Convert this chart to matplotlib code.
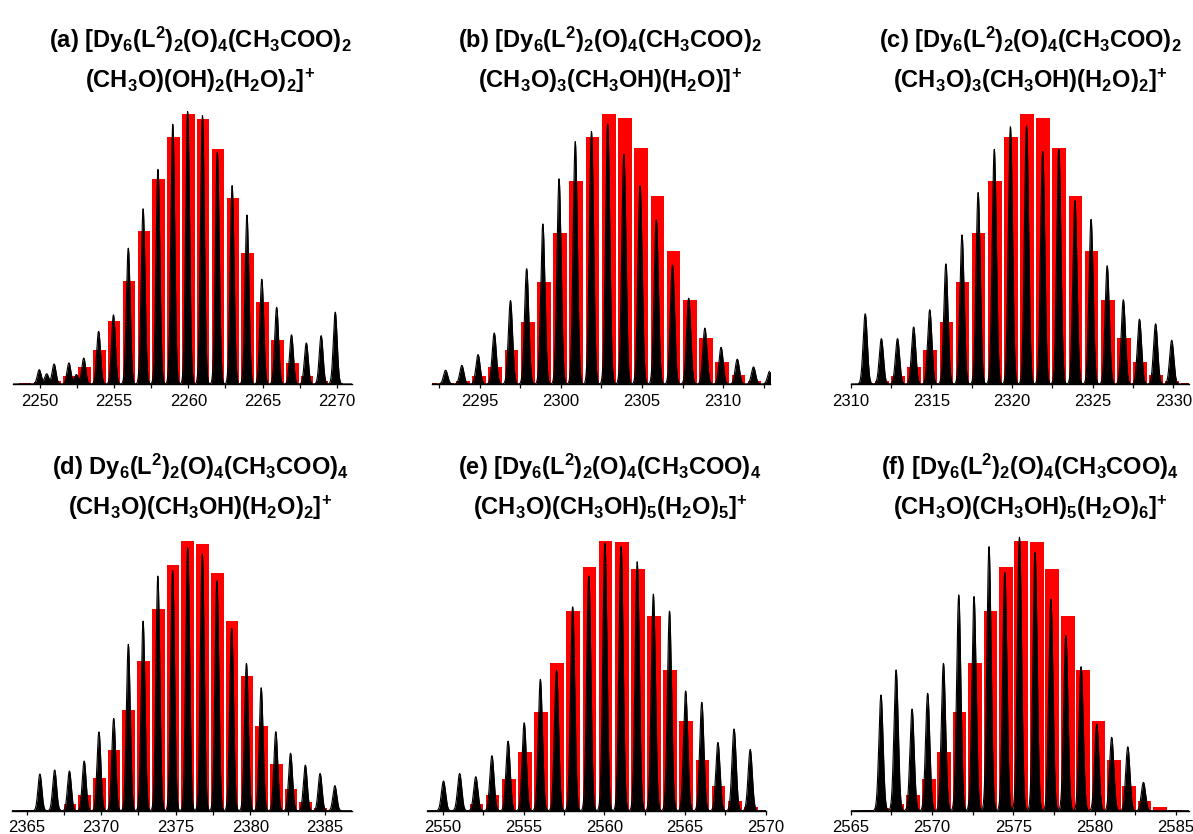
import numpy as np
import matplotlib
matplotlib.use("Agg")
import matplotlib.pyplot as plt
from matplotlib.ticker import MultipleLocator

plt.rcParams['font.family'] = ['Liberation Sans', 'DejaVu Sans']
plt.rcParams['mathtext.fontset'] = 'custom'
for key in ('rm', 'it', 'bf', 'sf'):
    plt.rcParams['mathtext.' + key] = 'Liberation Sans:bold'

# ---------------- data: simulated (bars) and experimental (peaks) ----------------
# (a)
a_sim_mz = [2249, 2250, 2251, 2252, 2253, 2254, 2255, 2256, 2257, 2258, 2259,
            2260, 2261, 2262, 2263, 2264, 2265, 2266, 2267, 2268, 2269, 2270]
a_sim_int = [0.004, 0.006, 0.012, 0.028, 0.063, 0.127, 0.232, 0.382, 0.567, 0.758, 0.916,
             1.000, 0.983, 0.870, 0.688, 0.487, 0.305, 0.164, 0.078, 0.031, 0.010, 0.002]
a_exp_mz = [2249.95, 2250.45, 2250.95, 2251.95, 2252.45, 2252.95, 2253.95, 2254.95,
            2255.95, 2256.95, 2257.95, 2258.95, 2259.95, 2260.95, 2261.95, 2262.95,
            2263.95, 2264.95, 2265.95, 2266.95, 2267.95, 2268.95, 2269.90]
a_exp_int = [0.053, 0.038, 0.074, 0.078, 0.035, 0.096, 0.195, 0.256,
             0.503, 0.649, 0.795, 0.962, 1.009, 0.994, 0.857, 0.735,
             0.626, 0.388, 0.284, 0.182, 0.152, 0.179, 0.266]

# (b)
b_sim_mz = [2291.95, 2292.95, 2293.95, 2294.95, 2295.95, 2296.95, 2297.95, 2298.95,
            2299.95, 2300.95, 2301.95, 2302.95, 2303.95, 2304.95, 2305.95, 2306.95,
            2307.95, 2308.95, 2309.95, 2310.95, 2311.95, 2312.95]
b_sim_int = [0.002, 0.004, 0.010, 0.028, 0.063, 0.125, 0.229, 0.377,
             0.561, 0.753, 0.914, 1.000, 0.986, 0.875, 0.697, 0.494,
             0.311, 0.170, 0.080, 0.033, 0.011, 0.004]
b_exp_mz = [2292.88, 2293.88, 2294.88, 2295.88, 2296.88, 2297.88, 2298.88, 2299.88,
            2300.88, 2301.88, 2302.88, 2303.88, 2304.88, 2305.88, 2306.88, 2307.88,
            2308.88, 2309.88, 2310.88, 2311.88, 2312.88]
b_exp_int = [0.051, 0.069, 0.109, 0.189, 0.309, 0.427, 0.593, 0.760,
             0.898, 0.935, 0.963, 0.851, 0.734, 0.608, 0.441, 0.318,
             0.207, 0.136, 0.092, 0.063, 0.047]

# (c)
c_sim_mz = [2310.93, 2311.93, 2312.93, 2313.93, 2314.93, 2315.93, 2316.93, 2317.93,
            2318.93, 2319.93, 2320.93, 2321.93, 2322.93, 2323.93, 2324.93, 2325.93,
            2326.93, 2327.93, 2328.93, 2329.93, 2330.93]
c_sim_int = [0.003, 0.010, 0.028, 0.063, 0.125, 0.228, 0.377, 0.561,
             0.753, 0.914, 1.000, 0.986, 0.875, 0.697, 0.494, 0.311,
             0.170, 0.080, 0.033, 0.011, 0.004]
c_exp_mz = [2310.90, 2311.90, 2312.90, 2313.90, 2314.90, 2315.90, 2316.90, 2317.90,
            2318.90, 2319.90, 2320.90, 2321.90, 2322.90, 2323.90, 2324.90, 2325.90,
            2326.90, 2327.90, 2328.90, 2329.90]
c_exp_int = [0.260, 0.168, 0.168, 0.211, 0.275, 0.445, 0.552, 0.709,
             0.869, 0.953, 0.956, 0.861, 0.869, 0.679, 0.610, 0.438,
             0.312, 0.240, 0.223, 0.162]

# (d)
d_sim_mz = [2364.93, 2365.92, 2366.91, 2367.90, 2368.89, 2369.88, 2370.87, 2371.85,
            2372.84, 2373.83, 2374.82, 2375.81, 2376.80, 2377.79, 2378.78, 2379.77,
            2380.76, 2381.74, 2382.73, 2383.72, 2384.71, 2385.70]
d_sim_int = [0.001, 0.002, 0.005, 0.025, 0.058, 0.120, 0.225, 0.373,
             0.556, 0.748, 0.910, 1.000, 0.989, 0.883, 0.703, 0.501,
             0.315, 0.173, 0.082, 0.032, 0.010, 0.003]
d_exp_mz = [2365.89, 2366.88, 2367.87, 2368.86, 2369.85, 2370.84, 2371.82, 2372.81,
            2373.80, 2374.79, 2375.80, 2376.78, 2377.76, 2378.75, 2379.74, 2380.73,
            2381.71, 2382.70, 2383.69, 2384.68, 2385.67]
d_exp_int = [0.136, 0.151, 0.147, 0.184, 0.292, 0.342, 0.617, 0.703,
             0.870, 0.890, 0.975, 0.951, 0.852, 0.676, 0.546, 0.456,
             0.293, 0.213, 0.169, 0.138, 0.093]

# (e)
e_sim_mz = [2551.08, 2552.08, 2553.08, 2554.08, 2555.08, 2556.08, 2557.08, 2558.08,
            2559.08, 2560.08, 2561.08, 2562.08, 2563.08, 2564.08, 2565.08, 2566.08,
            2567.08, 2568.08, 2569.08, 2570.08]
e_sim_int = [0.004, 0.023, 0.057, 0.119, 0.219, 0.365, 0.546, 0.740,
             0.905, 1.000, 0.998, 0.896, 0.722, 0.520, 0.334, 0.188,
             0.091, 0.037, 0.012, 0.002]
e_exp_mz = [2550.04, 2551.04, 2552.04, 2553.04, 2554.04, 2555.04, 2556.04, 2557.04,
            2558.04, 2559.04, 2560.04, 2561.04, 2562.04, 2563.04, 2564.04, 2565.04,
            2566.04, 2567.04, 2568.04, 2569.04]
e_exp_int = [0.110, 0.138, 0.126, 0.204, 0.258, 0.326, 0.487, 0.520,
             0.756, 0.870, 0.991, 0.979, 0.923, 0.803, 0.740, 0.444,
             0.402, 0.253, 0.303, 0.227]

# (f)
f_sim_mz = [2565.98, 2566.93, 2567.88, 2568.83, 2569.80, 2570.74, 2571.69, 2572.63,
            2573.59, 2574.53, 2575.49, 2576.43, 2577.39, 2578.34, 2579.28, 2580.23,
            2581.17, 2582.12, 2583.06, 2584.00, 2584.95]
f_sim_int = [0.004, 0.009, 0.025, 0.057, 0.119, 0.219, 0.365, 0.546,
             0.740, 0.905, 1.000, 0.998, 0.896, 0.722, 0.520, 0.334,
             0.188, 0.091, 0.037, 0.012, 0.004]
f_exp_mz = [2566.86, 2567.79, 2568.77, 2569.73, 2570.70, 2571.64, 2572.58, 2573.50,
            2574.47, 2575.37, 2576.33, 2577.30, 2578.22, 2579.16, 2580.12, 2581.04,
            2582.03, 2582.99]
f_exp_int = [0.429, 0.522, 0.377, 0.435, 0.546, 0.800, 0.794, 0.979,
             0.883, 1.014, 0.957, 0.784, 0.649, 0.534, 0.321, 0.272,
             0.237, 0.105]

# ---------------- captions ----------------
captions = [
    (r"(a) [Dy$_6$(L$^2$)$_2$(O)$_4$(CH$_3$COO)$_2$",
     r"(CH$_3$O)(OH)$_2$(H$_2$O)$_2$]$^{\!+}$"),
    (r"(b) [Dy$_6$(L$^2$)$_2$(O)$_4$(CH$_3$COO)$_2$",
     r"(CH$_3$O)$_3$(CH$_3$OH)(H$_2$O)]$^{\!+}$"),
    (r"(c) [Dy$_6$(L$^2$)$_2$(O)$_4$(CH$_3$COO)$_2$",
     r"(CH$_3$O)$_3$(CH$_3$OH)(H$_2$O)$_2$]$^{\!+}$"),
    (r"(d) Dy$_6$(L$^2$)$_2$(O)$_4$(CH$_3$COO)$_4$",
     r"(CH$_3$O)(CH$_3$OH)(H$_2$O)$_2$]$^{\!+}$"),
    (r"(e) [Dy$_6$(L$^2$)$_2$(O)$_4$(CH$_3$COO)$_4$",
     r"(CH$_3$O)(CH$_3$OH)$_5$(H$_2$O)$_5$]$^{\!+}$"),
    (r"(f) [Dy$_6$(L$^2$)$_2$(O)$_4$(CH$_3$COO)$_4$",
     r"(CH$_3$O)(CH$_3$OH)$_5$(H$_2$O)$_6$]$^{\!+}$"),
]

panels = [
    (a_sim_mz, a_sim_int, a_exp_mz, a_exp_int, (2248.16, 2271.01)),
    (b_sim_mz, b_sim_int, b_exp_mz, b_exp_int, (2292.02, 2312.90)),
    (c_sim_mz, c_sim_int, c_exp_mz, c_exp_int, (2310.00, 2330.99)),
    (d_sim_mz, d_sim_int, d_exp_mz, d_exp_int, (2364.00, 2386.80)),
    (e_sim_mz, e_sim_int, e_exp_mz, e_exp_int, (2549.00, 2570.00)),
    (f_sim_mz, f_sim_int, f_exp_mz, f_exp_int, (2565.00, 2585.81)),
]

# ---------------- layout (pixels) ----------------
W, H = 1193, 834
fig = plt.figure(figsize=(W / 100, H / 100), dpi=100)

col_x = [(12.7, 351.7), (431.7, 770.0), (850.7, 1189.3),
         (11.7, 351.7), (426.7, 765.7), (850.7, 1189.3)]
row_base = [384.0, 384.0, 384.0, 810.7, 810.7, 810.7]
row_top = [114.0, 114.0, 114.0, 541.0, 541.0, 541.0]
title_cx = [200, 610, 1030, 200, 610, 1030]
title_y = [(40, 81), (40, 81), (40, 81), (467, 508), (467, 508), (467, 508)]

YMAX = 1.06
SIGMA = 0.13

for i, (smz, sint, emz, eint, xlim) in enumerate(panels):
    x0, x1 = col_x[i]
    base, top = row_base[i], row_top[i]
    unit = base - top
    rect = [x0 / W, 1 - base / H, (x1 - x0) / W, unit * YMAX / H]
    ax = fig.add_axes(rect)

    ax.bar(smz, sint, width=0.85, color='#ff0000', linewidth=0, zorder=1)

    x = np.linspace(xlim[0] - 1, xlim[1] + 1, 8000)
    y = np.zeros_like(x)
    for m, h in zip(emz, eint):
        y += h * np.exp(-0.5 * ((x - m) / SIGMA) ** 2)
    ax.fill_between(x, 0, y, color='black', linewidth=0, zorder=2)
    ax.plot(x, y, color='black', lw=0.8, zorder=3)

    ax.set_xlim(*xlim)
    ax.set_ylim(0, YMAX)
    for s in ('top', 'left', 'right'):
        ax.spines[s].set_visible(False)
    ax.spines['bottom'].set_linewidth(1.0)
    ax.spines['bottom'].set_zorder(4)
    ax.set_yticks([])
    ax.xaxis.set_major_locator(MultipleLocator(5))
    ax.xaxis.set_minor_locator(MultipleLocator(2.5))
    ax.tick_params(axis='x', which='both', direction='out', length=3.0,
                   width=0.9, labelsize=12, pad=4)
    ax.tick_params(axis='x', which='minor', labelbottom=False)
    ax.patch.set_alpha(0)

    l1, l2 = captions[i]
    fig.text(title_cx[i] / W, 1 - title_y[i][0] / H, l1, ha='center', va='center',
             fontsize=17, fontweight='bold')
    fig.text(title_cx[i] / W, 1 - title_y[i][1] / H, l2, ha='center', va='center',
             fontsize=17, fontweight='bold')

fig.savefig('out.png', dpi=100)
